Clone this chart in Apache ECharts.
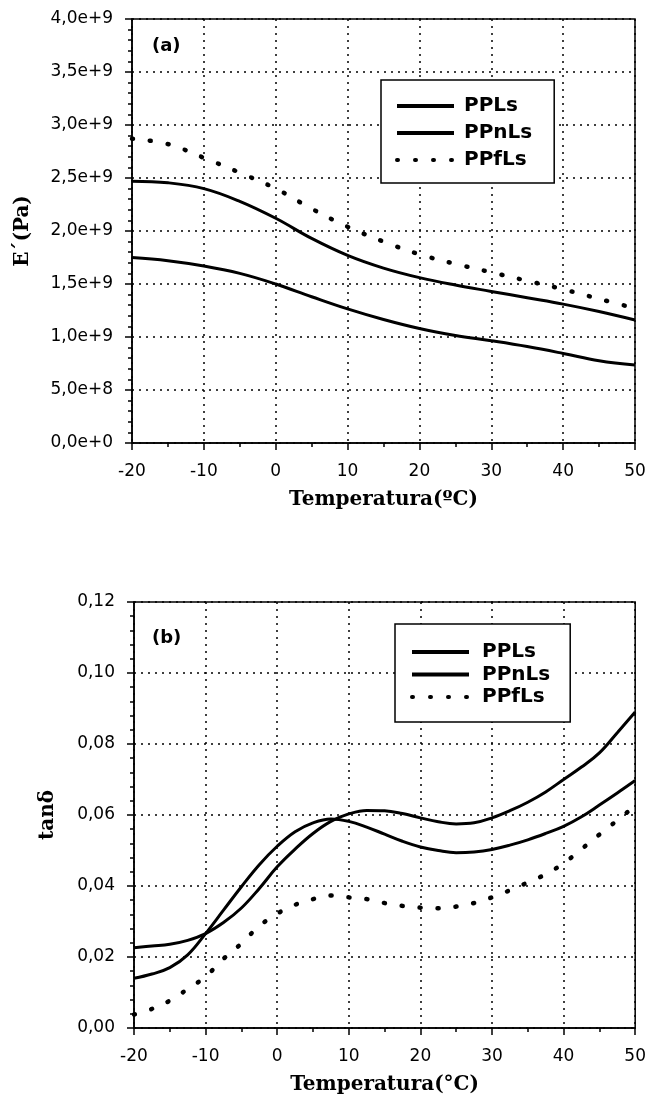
<!DOCTYPE html>
<html>
<head>
<meta charset="utf-8">
<script src="https://cdn.jsdelivr.net/npm/echarts@6/dist/echarts.min.js"></script>
<style>
  html, body { margin: 0; padding: 0; background: #fff; }
  #chart { width: 649px; height: 1096px; }
</style>
</head>
<body>
<div id="chart"></div>
<script>
// (a) E' en unidades de 1e9 Pa
const tempA = [-20, -15, -10, -5, 0, 5, 10, 15, 20, 25, 30, 35, 40, 45, 50];
const ePPLs = [1.75, 1.72, 1.67, 1.60, 1.50, 1.38, 1.265, 1.165, 1.08, 1.015, 0.965, 0.91, 0.845, 0.775, 0.735];
const ePPnLs = [2.47, 2.455, 2.40, 2.28, 2.12, 1.93, 1.77, 1.65, 1.56, 1.49, 1.43, 1.37, 1.31, 1.24, 1.16];
const ePPfLs = [2.87, 2.82, 2.69, 2.55, 2.40, 2.21, 2.04, 1.90, 1.78, 1.69, 1.61, 1.53, 1.45, 1.36, 1.27];
const yLabelsA = ['0,0e+0', '5,0e+8', '1,0e+9', '1,5e+9', '2,0e+9', '2,5e+9', '3,0e+9', '3,5e+9', '4,0e+9'];

// (b) tan delta
const tempB = [-20, -17.5, -15, -12.5, -10, -7.5, -5, -2.5, 0, 2.5, 5, 7.5, 10, 12.5, 15, 17.5,
  20, 22.5, 25, 27.5, 30, 32.5, 35, 37.5, 40, 42.5, 45, 47.5, 50];
const tPPLs = [0.0140, 0.0152, 0.0170, 0.0206, 0.0266, 0.0332, 0.0398, 0.0460, 0.0512, 0.0553,
  0.0578, 0.0589, 0.0582, 0.0566, 0.0546, 0.0526, 0.0510, 0.0500, 0.0494, 0.0496, 0.0503,
  0.0515, 0.0530, 0.0548, 0.0568, 0.0595, 0.0628, 0.0662, 0.0697];
const tPPnLs = [0.0226, 0.0231, 0.0236, 0.0247, 0.0266, 0.0297, 0.0338, 0.0393, 0.0454, 0.0504,
  0.0548, 0.0582, 0.0603, 0.0613, 0.0612, 0.0604, 0.0592, 0.0581, 0.0575, 0.0578, 0.0592,
  0.0612, 0.0636, 0.0665, 0.0700, 0.0735, 0.0775, 0.0832, 0.0890];
const tPPfLs = [0.0038, 0.0054, 0.0077, 0.0110, 0.0145, 0.0195, 0.0238, 0.0287, 0.0322, 0.0347,
  0.0363, 0.0373, 0.0368, 0.0363, 0.0352, 0.0344, 0.0339, 0.0337, 0.0342, 0.0352, 0.0368,
  0.0388, 0.0410, 0.0433, 0.0464, 0.0504, 0.0545, 0.0585, 0.0626];
const yLabelsB = ['0,00', '0,02', '0,04', '0,06', '0,08', '0,10', '0,12'];

const names = ['PPLs', 'PPnLs', 'PPfLs'];

const chart = echarts.init(document.getElementById('chart'));

const sans = 'DejaVu Sans';
const serif = 'DejaVu Serif';
const black = '#000';

function xAxis(gridIndex, name) {
  return {
    type: 'value',
    gridIndex: gridIndex,
    min: -20,
    max: 50,
    interval: 10,
    name: name,
    nameLocation: 'middle',
    nameGap: 47,
    nameTextStyle: { fontFamily: serif, fontWeight: 'bold', fontSize: 20, color: black },
    axisLine: { onZero: false, lineStyle: { color: black, width: 1.5 } },
    axisTick: { length: 7, lineStyle: { color: black, width: 1.5 } },
    minorTick: { show: true, splitNumber: 2, length: 4, lineStyle: { color: black, width: 1.5 } },
    axisLabel: { fontFamily: sans, fontSize: 17, color: black, margin: 20 },
    splitLine: { show: true, lineStyle: { color: black, width: 1.5, type: [2, 5] } },
  };
}

function yAxis(gridIndex, max, interval, labels, name, gap) {
  return {
    type: 'value',
    gridIndex: gridIndex,
    min: 0,
    max: max,
    interval: interval,
    name: name,
    nameLocation: 'middle',
    nameGap: gap,
    nameTextStyle: { fontFamily: serif, fontWeight: 'bold', fontSize: 20, color: black },
    axisLine: { show: true, onZero: false, lineStyle: { color: black, width: 1.5 } },
    axisTick: { show: true, length: 7, lineStyle: { color: black, width: 1.5 } },
    minorTick: { show: true, splitNumber: 5, length: 4, lineStyle: { color: black, width: 1.5 } },
    axisLabel: {
      fontFamily: sans, fontSize: 17, color: black, margin: 19,
      formatter: (v) => labels[Math.round(v / interval)],
    },
    splitLine: { show: true, lineStyle: { color: black, width: 1.5, type: [2, 5] } },
  };
}

function legend(left, top, padding, gap, textGap) {
  return {
    data: names,
    orient: 'vertical',
    left: left,
    top: top,
    padding: padding,
    itemWidth: 57,
    itemHeight: 14,
    itemGap: gap,
    backgroundColor: '#fff',
    borderColor: black,
    borderWidth: 1.5,
    borderRadius: 0,
    selectedMode: false,
    itemStyle: { opacity: 0 },
    lineStyle: { width: 4 },
    textStyle: { fontFamily: sans, fontWeight: 'bold', fontSize: 20, color: black, padding: [0, 0, 0, textGap] },
  };
}

function series(name, xs, ys, idx, dotted) {
  return {
    name: name,
    type: 'line',
    xAxisIndex: idx,
    yAxisIndex: idx,
    data: xs.map((x, i) => [x, ys[i]]),
    smooth: 0.4,
    symbol: 'none',
    lineStyle: dotted
      ? { color: black, width: 4.5, type: [1, 17], cap: 'round' }
      : { color: black, width: 3 },
    itemStyle: { color: black },
  };
}

chart.setOption({
  animation: false,
  backgroundColor: '#fff',
  grid: [
    { left: 132, right: 14, top: 19, height: 424, show: true, borderColor: black, borderWidth: 1.5 },
    { left: 134, right: 12, top: 602, height: 427, show: true, borderColor: black, borderWidth: 1.5 },
  ],
  xAxis: [xAxis(0, 'Temperatura(ºC)'), xAxis(1, 'Temperatura(°C)')],
  yAxis: [
    yAxis(0, 4, 0.5, yLabelsA, 'E´(Pa)', 99),
    yAxis(1, 0.12, 0.02, yLabelsB, 'tanδ', 76),
  ],
  legend: [
    legend(381, 80, [16, 22, 13, 14], 7, 5),
    legend(395, 624, [18, 20, 15, 15], 2.5, 8),
  ],
  graphic: [
    { type: 'text', left: 152, top: 37, style: { text: '(a)', fontFamily: sans, fontWeight: 'bold', fontSize: 18, fill: black } },
    { type: 'text', left: 152, top: 629, style: { text: '(b)', fontFamily: sans, fontWeight: 'bold', fontSize: 18, fill: black } },
  ],
  series: [
    series('PPLs', tempA, ePPLs, 0, false),
    series('PPnLs', tempA, ePPnLs, 0, false),
    series('PPfLs', tempA, ePPfLs, 0, true),
    series('PPLs', tempB, tPPLs, 1, false),
    series('PPnLs', tempB, tPPnLs, 1, false),
    series('PPfLs', tempB, tPPfLs, 1, true),
  ],
});
</script>
</body>
</html>
